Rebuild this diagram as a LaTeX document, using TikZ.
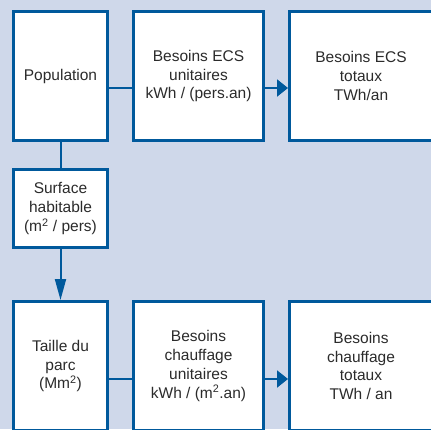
\documentclass[tikz,border=0pt]{standalone}
\usepackage{fontspec}
\setmainfont{Liberation Sans}
\usepackage{tikz}
\usetikzlibrary{positioning,arrows.meta}
\definecolor{BoxBlue}{HTML}{00599C}
\definecolor{BackBlue}{HTML}{CFD8EA}
\definecolor{TextGrey}{HTML}{2B2B2B}
\tikzstyle{FlowBox}=[rectangle, draw=BoxBlue, fill=white, line width=3pt, align=center, text=TextGrey, font=\fontsize{15.5}{18.8}\selectfont]
\tikzstyle{FlowLine}=[draw=BoxBlue, line width=2pt]

\begin{document}
\begin{tikzpicture}[x=1pt, y=-1pt, node distance={23pt}]
      \useasboundingbox (0,0) rectangle (431,429);
      \clip (0,0) rectangle (431,429);
      \fill[BackBlue] (0,0) rectangle (431,429);
      % top row
      \node[FlowBox, minimum width=94pt, minimum height=129pt] (pop) at (60.5,76) {Population};
      \node[FlowBox, minimum width=130pt, minimum height=129pt] (ecsu) [right=of pop] {Besoins ECS\\unitaires\\kWh / (pers.an)};
      \node[FlowBox, minimum width=143pt, minimum height=129pt] (ecst) [right=of ecsu] {Besoins ECS\\totaux\\TWh/an};
      % left column
      \node[FlowBox, minimum width=94pt, minimum height=78pt] (surf) [below=26pt of pop] {Surface\\habitable\\(m\textsuperscript{2} / pers)};
      \node[FlowBox, minimum width=94pt, minimum height=129pt] (parc) [below=51pt of surf] {Taille du\\parc\\(Mm\textsuperscript{2})};
      % bottom row
      \node[FlowBox, minimum width=130pt, minimum height=129pt] (chu) [right=of parc] {Besoins\\chauffage\\unitaires\\kWh / (m\textsuperscript{2}.an)};
      \node[FlowBox, minimum width=143pt, minimum height=129pt] (cht) [right=of chu] {Besoins\\chauffage\\totaux\\TWh / an};
      \draw[FlowLine] ([yshift=-12pt]pop.east) -- ([yshift=-12pt]ecsu.west);
      \draw[FlowLine, -{Triangle[length=11pt,width=17pt]}] ([yshift=-12pt]ecsu.east) -- ([yshift=-12pt]ecst.west);
      \draw[FlowLine] (pop) -- (surf);
      \draw[FlowLine, -{Triangle[length=21pt,width=11pt]}] (surf) -- (parc);
      \draw[FlowLine] ([yshift=-13pt]parc.east) -- ([yshift=-13pt]chu.west);
      \draw[FlowLine, -{Triangle[length=11pt,width=17pt]}] ([yshift=-13pt]chu.east) -- ([yshift=-13pt]cht.west);
    \end{tikzpicture}
\end{document}
